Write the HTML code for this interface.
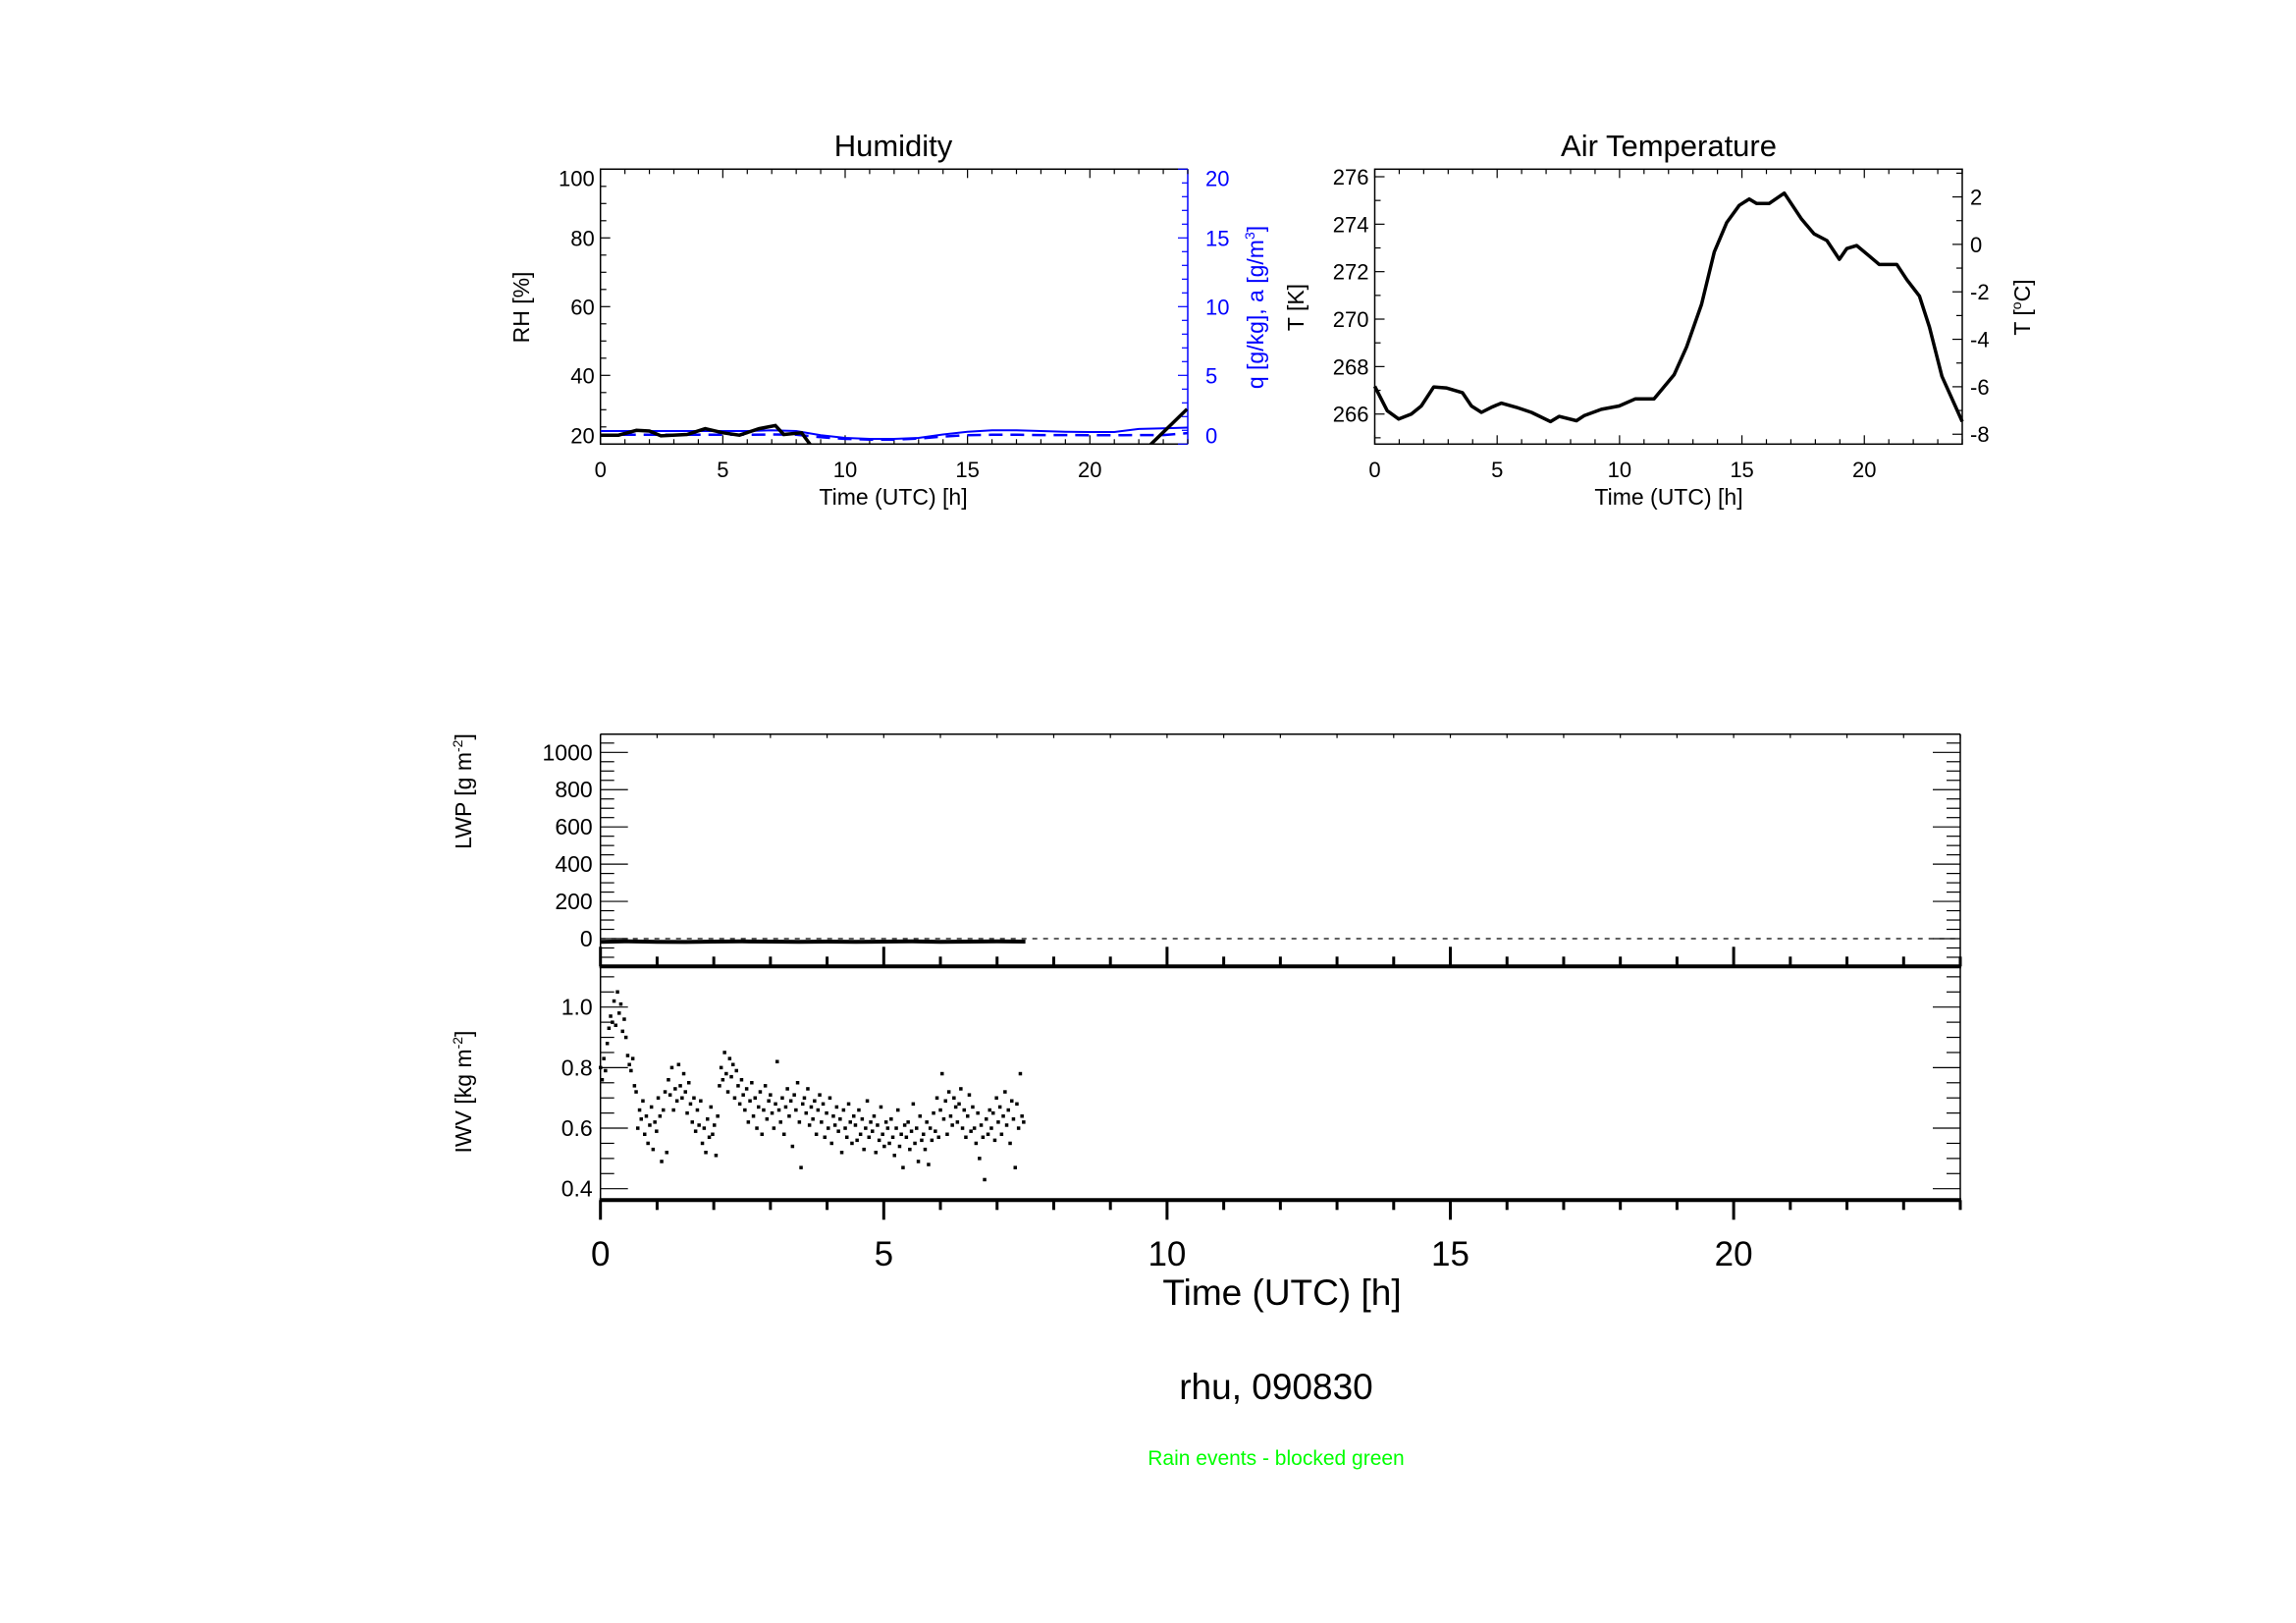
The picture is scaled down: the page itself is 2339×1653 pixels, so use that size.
<!DOCTYPE html>
<html><head><meta charset="utf-8"><style>
html,body{margin:0;padding:0;background:#fff}
svg{display:block;font-family:"Liberation Sans",Arial,sans-serif}
</style></head><body>
<svg id="fig" width="2339" height="1653" viewBox="0 0 2339 1653" xmlns="http://www.w3.org/2000/svg"></svg>
<script>
// ---------- data ----------
const tempHours=[0,0.51,0.98,1.49,1.9,2.41,2.92,3.58,3.95,4.36,4.76,5.17,5.79,6.4,7.18,7.53,8.24,8.55,9.26,9.98,10.65,11.41,12.23,12.74,13.35,13.87,14.38,14.89,15.3,15.6,16.11,16.73,17.44,17.95,18.47,18.98,19.28,19.69,20.2,20.61,21.33,21.74,22.25,22.66,23.17,24];
const tempK=[267.17,266.14,265.79,266.0,266.34,267.14,267.1,266.9,266.34,266.07,266.28,266.46,266.28,266.07,265.68,265.9,265.72,265.93,266.2,266.34,266.64,266.64,267.66,268.83,270.62,272.83,274.07,274.79,275.06,274.87,274.87,275.31,274.21,273.59,273.31,272.52,272.97,273.1,272.66,272.3,272.3,271.66,270.97,269.66,267.59,265.68];
const rhHoursA=[0,0.74,1.47,2.0,2.47,3.54,4.28,5.01,5.68,6.48,7.15,7.49,8.22,8.56,8.8];
const rhValsA=[22.6,22.6,24,23.8,22.4,22.8,24.5,23.3,22.6,24.5,25.4,22.8,23.3,20,17];
const rhHoursB=[22.3,22.5,23.35,23.97];
const rhValsB=[18,20,25.9,30.2];
const qHours=[0,2,4,6,7,8,9,10,11,12,13,14,15,16,17,18,19,20,21,22,23,24];
const qVals=[0.95,0.95,0.95,0.95,1.0,0.95,0.65,0.45,0.38,0.38,0.45,0.7,0.9,1.0,1.0,0.95,0.9,0.88,0.88,1.1,1.15,1.2];
const aVals=[0.68,0.68,0.68,0.68,0.7,0.68,0.5,0.38,0.33,0.33,0.4,0.55,0.65,0.68,0.68,0.66,0.66,0.64,0.64,0.66,0.66,0.8];
const lwpHours=[0,0.5,1,1.5,2,2.5,3,3.5,4,4.5,5,5.5,6,6.5,7,7.5];
const lwpVals=[-17,-14,-17,-18,-16,-15,-16,-17,-16,-17,-16,-15,-17,-16,-15,-16];
const iwvStart=0, iwvStep=0.03;
const iwvVals=[.80,.76,.83,.79,.88,.93,.97,.95,1.02,.94,1.05,.98,1.01,.92,.96,.90,.84,.81,.79,.83,
.74,.72,.60,.66,.63,.69,.58,.64,.55,.61,.67,.53,.62,.59,.70,.64,.49,.66,.72,.52,
.76,.71,.80,.66,.73,.69,.81,.74,.70,.78,.72,.65,.75,.68,.62,.70,.59,.66,.61,.69,
.55,.60,.52,.63,.57,.67,.58,.61,.51,.64,.74,.80,.76,.85,.78,.72,.83,.77,.81,.70,
.79,.74,.68,.76,.71,.66,.73,.62,.69,.75,.64,.70,.60,.67,.72,.58,.66,.74,.63,.69,
.71,.65,.60,.68,.82,.66,.62,.70,.58,.67,.73,.64,.69,.54,.71,.66,.75,.62,.47,.68,
.70,.65,.73,.61,.67,.63,.69,.58,.66,.71,.62,.68,.57,.65,.60,.70,.55,.64,.61,.67,
.59,.63,.52,.66,.60,.57,.68,.62,.55,.64,.61,.56,.66,.58,.63,.53,.60,.69,.57,.62,
.59,.64,.52,.61,.56,.67,.58,.54,.62,.60,.55,.63,.57,.51,.60,.66,.54,.58,.47,.61,
.57,.62,.53,.59,.68,.55,.60,.49,.64,.56,.58,.53,.62,.48,.60,.56,.65,.59,.70,.57,
.66,.78,.63,.69,.58,.72,.64,.61,.70,.67,.62,.68,.73,.60,.66,.57,.64,.71,.59,.67,
.60,.55,.65,.50,.61,.57,.43,.63,.58,.66,.60,.65,.56,.70,.62,.67,.58,.64,.72,.61,
.66,.55,.69,.63,.47,.68,.60,.78,.64,.62];
const xTickLabels=["0","5","10","15","20"];
const rhTickLabels=["20","40","60","80","100"];
const qTickLabels=["0","5","10","15","20"];
const kTickLabels=["266","268","270","272","274","276"];
const cTickLabels=["-8","-6","-4","-2","0","2"];
const lwpTickLabels=["0","200","400","600","800","1000"];
const iwvTickLabels=["0.4","0.6","0.8","1.0"];

// ---------- helpers ----------
const NS="http://www.w3.org/2000/svg";
const svg=document.getElementById('fig');
function mk(tag,attrs,parent){const e=document.createElementNS(NS,tag);for(const k in attrs)e.setAttribute(k,attrs[k]);(parent||svg).appendChild(e);return e;}
function txt(s,x,y,size,anchor,fill,parent){const t=mk('text',{x:x,y:y,'font-size':size,'text-anchor':anchor||'middle',fill:fill||'#000'},parent);t.textContent=s;return t;}
function lin(x1,y1,x2,y2,w,col,parent){return mk('line',{x1:x1,y1:y1,x2:x2,y2:y2,stroke:col||'#000','stroke-width':w||1.5},parent);}
function scale(d0,d1,r0,r1){return v=>r0+(v-d0)/(d1-d0)*(r1-r0);}
function pathD(xs,ys,fx,fy){return xs.map((v,i)=>(i?'L':'M')+fx(v).toFixed(1)+','+fy(ys[i]).toFixed(1)).join(' ');}

// ---------- Humidity ----------
(function(){
const L=611.7,R=1210,T=172.3,B=452.3;
const fx=scale(0,24,L,R), fy=scale(20,100,B,T), fq=scale(0,20,B,T);
const g=mk('g',{});


const cp=mk('clipPath',{id:'clipH'},g);
mk('rect',{x:L,y:T,width:R-L,height:B-T},cp);
const frame=mk('path',{d:`M${R},${T} L${L},${T} L${L},${B} L${R},${B}`,fill:'none',stroke:'#000','stroke-width':1.5},g);


lin(R,T,R,B,1.5,'#00f',g);
for(let h=0;h<=24;h++){const x=fx(h),len=h%5===0?9:5;lin(x,B,x,B-len,1.2,'#000',g);lin(x,T,x,T+len,1.2,'#000',g);}
for(let v=20;v<=100;v+=5){const y=fy(v);lin(L,y,L+(v%20===0?10:6),y,1.2,'#000',g);}
for(let v=0;v<=20;v++){const y=fq(v);lin(R,y,R-(v%5===0?10:6),y,1.2,'#00f',g);}
function inset(i,n){return i===0?-9:(i===n-1?9:0);}
xTickLabels.forEach((s,i)=>{const t=txt(s,fx(i*5),486,22,'middle','#000',g);});
rhTickLabels.forEach((s,i)=>{const t=txt(s,L-6,fy(20+i*20)+8+inset(i,rhTickLabels.length),22,'end','#000',g);});
qTickLabels.forEach((s,i)=>{const t=txt(s,R+18,fq(i*5)+8+inset(i,qTickLabels.length),22,'start','#00f',g);});
const title=txt('Humidity',910,159,31,'middle','#000',g);

const xl=txt('Time (UTC) [h]',910,514,23,'middle','#000',g);

const yl=txt('RH [%]',0,0,23,'middle','#000',g);yl.setAttribute('transform','translate(539,313) rotate(-90)');

const yr=mk('text',{transform:'translate(1287,313) rotate(-90)','font-size':23,'text-anchor':'middle',fill:'#00f'},g);
yr.innerHTML='q [g/kg], a [g/m<tspan dy="-9" font-size="14">3</tspan><tspan dy="9">]</tspan>';

const cg=mk('g',{'clip-path':'url(#clipH)'},g);
const p1=mk('path',{d:pathD(qHours,qVals,fx,fq),fill:'none',stroke:'#00f','stroke-width':2},cg);

const p2=mk('path',{d:pathD(qHours,aVals,fx,fq),fill:'none',stroke:'#00f','stroke-width':2.5,'stroke-dasharray':'14,8'},cg);

const p3=mk('path',{d:pathD(rhHoursA,rhValsA,fx,fy)+' '+pathD(rhHoursB,rhValsB,fx,fy),fill:'none',stroke:'#000','stroke-width':3.5},cg);

})();

// ---------- Air temperature ----------
(function(){
const L=1400.5,R=1999,T=172.3,B=452.3;
const fx=scale(0,24,L,R), fy=scale(266,276,421.7,180), fc=c=>fy(c+273.15);
const g=mk('g',{});


const fr=mk('rect',{x:L,y:T,width:R-L,height:B-T,fill:'none',stroke:'#000','stroke-width':1.5},g);

for(let h=0;h<=24;h++){const x=fx(h),len=h%5===0?9:5;lin(x,B,x,B-len,1.2,'#000',g);lin(x,T,x,T+len,1.2,'#000',g);}
for(let v=265;v<=276;v++){const y=fy(v);lin(L,y,L+(v%2===0?10:6),y,1.2,'#000',g);}
for(let c=-8;c<=3;c++){const y=fc(c);if(y<T||y>B)continue;lin(R,y,R-(c%2===0?10:6),y,1.2,'#000',g);}
xTickLabels.forEach((s,i)=>{const t=txt(s,fx(i*5),486,22,'middle','#000',g);});
kTickLabels.forEach((s,i)=>{const t=txt(s,L-6,fy(266+i*2)+8,22,'end','#000',g);});
cTickLabels.forEach((s,i)=>{const t=txt(s,R+8,fc(-8+i*2)+8,22,'start','#000',g);});
const title=txt('Air Temperature',1700,159,31,'middle','#000',g);

const xl=txt('Time (UTC) [h]',1700,514,23,'middle','#000',g);

const yl=txt('T [K]',0,0,23,'middle','#000',g);yl.setAttribute('transform','translate(1328,313) rotate(-90)');

const yr=mk('text',{transform:'translate(2068,313) rotate(-90)','font-size':23,'text-anchor':'middle',fill:'#000'},g);
yr.innerHTML='T [<tspan dy="-9" font-size="14">o</tspan><tspan dy="9">C]</tspan>';

const p=mk('path',{d:pathD(tempHours,tempK,fx,fy),fill:'none',stroke:'#000','stroke-width':3.5,'stroke-linejoin':'round'},g);

})();

// ---------- LWP / IWV ----------
(function(){
const L=611.7,R=1997,T=747.7,M=984.3,B=1222.3;
const fx=scale(0,24,L,R), fl=scale(0,1000,956,766.3), fi=scale(0.4,1.0,1210.7,1025.7);
const g=mk('g',{});


lin(L,T,R,T,1.5,'#000',g);lin(L,T,L,B,1.5,'#000',g);lin(R,T,R,B,1.5,'#000',g);
lin(L-1,M,R+1,M,4,'#000',g);lin(L-1,B,R+1,B,4,'#000',g);
for(let h=0;h<=24;h++){const x=fx(h),maj=h%5===0;
 lin(x,T,x,T+4,1.2,'#000',g);
 lin(x,M,x,M-(maj?20:10),3,'#000',g);
 lin(x,B,x,B+(maj?20:10),3,'#000',g);}
for(let v=-100;v<=1100;v+=50){const y=fl(v);if(y<T+2||y>M-2)continue;const len=v%200===0?28:14;lin(L,y,L+len,y,1.2,'#000',g);lin(R,y,R-len,y,1.2,'#000',g);}
for(let k=8;k<=22;k++){const v=k*0.05,y=fi(v);if(y<M+3||y>B-3)continue;const len=(k%4===0)?28:14;lin(L,y,L+len,y,1.2,'#000',g);lin(R,y,R-len,y,1.2,'#000',g);}
lwpTickLabels.forEach((s,i)=>{const t=txt(s,L-8,fl(i*200)+8,23,'end','#000',g);});
iwvTickLabels.forEach((s,i)=>{const t=txt(s,L-8,fi(0.4+i*0.2)+8,23,'end','#000',g);});
xTickLabels.forEach((s,i)=>{const t=txt(s,fx(i*5),1289,35,'middle','#000',g);});
const xl=txt('Time (UTC) [h]',1306,1329,37,'middle','#000',g);

const y1=mk('text',{transform:'translate(480,806) rotate(-90)','font-size':23,'text-anchor':'middle'},g);
y1.innerHTML='LWP [g m<tspan dy="-9" font-size="14">-2</tspan><tspan dy="9">]</tspan>';

const y2=mk('text',{transform:'translate(480,1112) rotate(-90)','font-size':23,'text-anchor':'middle'},g);
y2.innerHTML='IWV [kg m<tspan dy="-9" font-size="14">-2</tspan><tspan dy="9">]</tspan>';

const zl=mk('line',{x1:L,y1:fl(0),x2:R,y2:fl(0),stroke:'#000','stroke-width':1.3,'stroke-dasharray':'5,6'},g);

const lp=mk('path',{d:pathD(lwpHours,lwpVals,fx,fl),fill:'none',stroke:'#000','stroke-width':4},g);

const dg=mk('g',{},g);

iwvVals.forEach((v,i)=>{const h=iwvStart+i*iwvStep;
 const d=mk('rect',{x:(fx(h)-1.75).toFixed(1),y:(fi(v)-1.75).toFixed(1),width:3.5,height:3.5,fill:'#000'},dg);
 
 });
const st=txt('rhu, 090830',1300,1425,37,'middle','#000');

const gr=txt('Rain events - blocked green',1300,1492,21,'middle','#00ff00');

})();
</script>
</body></html>
